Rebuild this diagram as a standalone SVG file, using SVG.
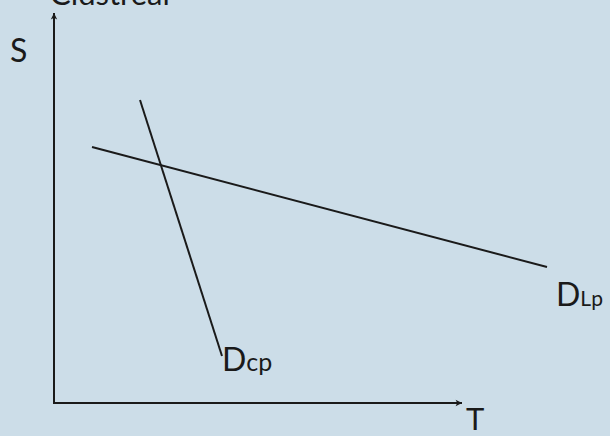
<svg xmlns="http://www.w3.org/2000/svg" width="610" height="436" viewBox="0 0 610 436">
<style>
.t{font-family:Lato,"Open Sans","Liberation Sans",sans-serif;fill:#1a1a1a}
.ln{stroke:#1a1a1a;stroke-width:2;fill:none}
</style>
<defs>
<marker id="ah" viewBox="0 0 10 10" refX="9" refY="5" markerWidth="8" markerHeight="8" orient="auto" markerUnits="userSpaceOnUse">
<path d="M1,1 L9,5 L1,9 L3,5 Z" fill="#1a1a1a"/>
</marker>
</defs>
<rect width="610" height="436" fill="#ccdde8"/>
<text class="t" x="50" y="5" font-size="31">Cidstreal</text>
<g id="axes">
<line class="ln" x1="54" y1="404" x2="54" y2="13" marker-end="url(#ah)"/>
<line class="ln" x1="53" y1="403" x2="462" y2="403" marker-end="url(#ah)"/>
</g>
<g id="labelS"><text class="t" x="10" y="62" font-size="32">S</text></g>
<g id="labelT"><text class="t" x="466" y="430" font-size="31">T</text></g>
<g id="connectors">
<line class="ln" x1="140" y1="100" x2="222" y2="356"/>
<line class="ln" x1="92" y1="147" x2="547" y2="267"/>
</g>
<g id="Dcp"><text class="t" x="222" y="371" font-size="32">D<tspan font-size="25">cp</tspan></text></g>
<g id="DLp"><text class="t" x="556" y="306" font-size="32">D<tspan font-size="21">Lp</tspan></text></g>
</svg>
